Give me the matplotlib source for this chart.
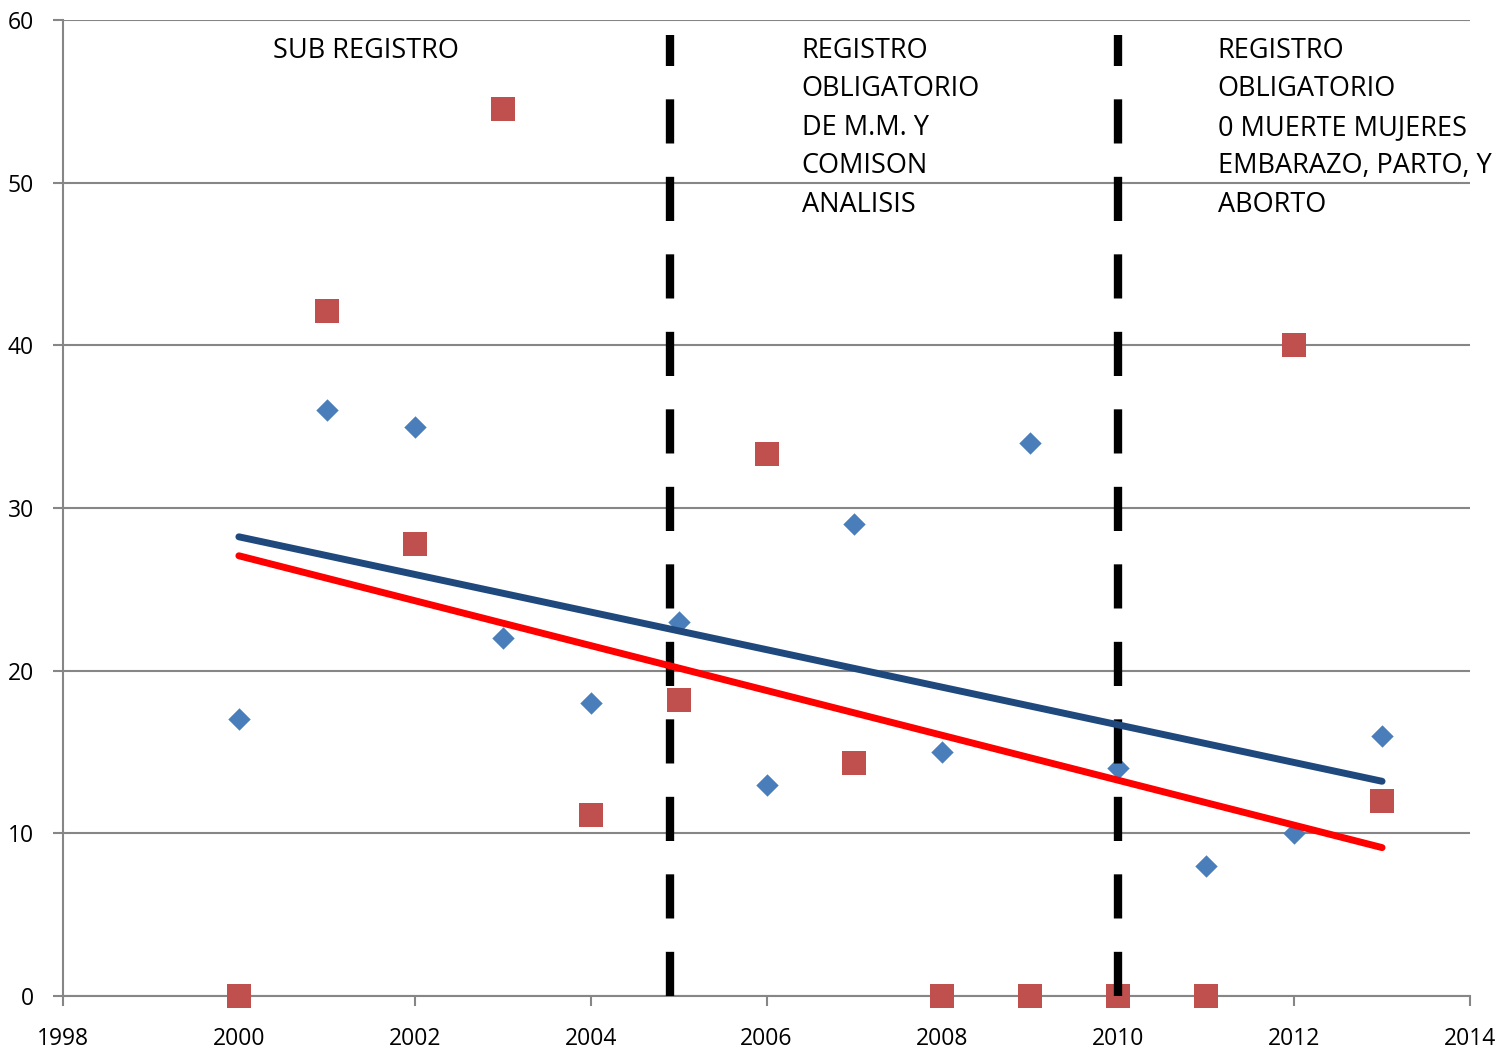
import numpy as np
import matplotlib.pyplot as plt

plt.rcParams['font.family'] = ['Open Sans', 'DejaVu Sans']

years = [2000, 2001, 2002, 2003, 2004, 2005, 2006, 2007, 2008, 2009, 2010, 2011, 2012, 2013]
serie_azul = [17, 36, 35, 22, 18, 23, 13, 29, 15, 34, 14, 8, 10, 16]
serie_roja = [0, 42.1, 27.8, 54.5, 11.1, 18.2, 33.3, 14.3, 0, 0, 0, 0, 40, 12]

cortes = [2004.9, 2010]
textos = [["SUB REGISTRO"],
          ["REGISTRO", "OBLIGATORIO", "DE M.M. Y", "COMISON", "ANALISIS"],
          ["REGISTRO", "OBLIGATORIO", "0 MUERTE MUJERES", "EMBARAZO, PARTO, Y", "ABORTO"]]
texto_x = [2000.39, 2006.4, 2011.13]
linea_y = [58.1, 55.75, 53.35, 51.0, 48.6]

grey = '#868686'

fig = plt.figure(figsize=(15.03, 10.53), dpi=100)
ax = fig.add_axes([63 / 1503, 57 / 1053, 1407 / 1503, 976 / 1053])

ax.set_xlim(1998, 2014)
ax.set_ylim(0, 60)
ax.set_xticks(range(1998, 2015, 2))
ax.set_yticks(range(0, 61, 10))
ax.yaxis.grid(True, color=grey, linewidth=1.5)
ax.set_axisbelow(True)
for s in ['top', 'right']:
    ax.spines[s].set_visible(False)
for s in ['left', 'bottom']:
    ax.spines[s].set_color(grey)
    ax.spines[s].set_linewidth(1.5)
ax.tick_params(axis='both', colors=grey, length=7, width=1.5, labelsize=16.5,
               labelcolor='black')
ax.tick_params(axis='x', pad=15)
ax.tick_params(axis='y', pad=14)

# lineas de corte
for c in cortes:
    ax.plot([c, c], [0, 59.1], color='black', lw=6, dashes=(5.3, 4), zorder=4)

ax.scatter(years, serie_azul, marker='D', s=130, color='#4A7EBB', zorder=3,
           linewidths=0, clip_on=False)
ax.scatter(years, serie_roja, marker='s', s=300, color='#C0504D', zorder=3,
           linewidths=0, clip_on=False)

# tendencias lineales
xx = np.array([years[0], years[-1]])
p_azul = np.polyfit(years, serie_azul, 1)
p_roja = np.polyfit(years, serie_roja, 1)
ax.plot(xx, np.polyval(p_azul, xx), color='#1F497D', lw=5, solid_capstyle='round', zorder=5)
ax.plot(xx, np.polyval(p_roja, xx), color='#FF0000', lw=5, solid_capstyle='round', zorder=5)

for lineas, x in zip(textos, texto_x):
    for t, y in zip(lineas, linea_y):
        ax.text(x, y, t, fontsize=19.5, va='center', ha='left', clip_on=False, zorder=6)

fig.savefig('out.png', dpi=100)
